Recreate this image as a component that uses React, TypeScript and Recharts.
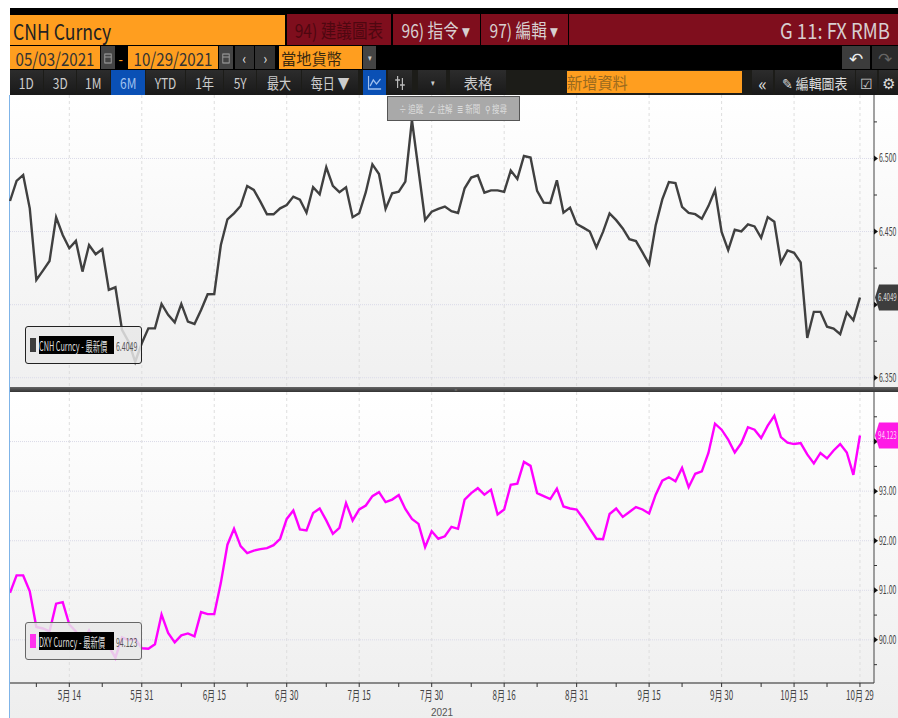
import React from 'react'
import { LineChart, Line, XAxis, YAxis, CartesianGrid } from 'recharts'

const cnhValues = [
  6.4709, 6.4846, 6.4887, 6.4659, 6.4169, 6.4233, 6.4299, 6.4598, 6.4477, 6.4386,
  6.4436, 6.4226, 6.4408, 6.4345, 6.4379, 6.4101, 6.4119, 6.3827, 6.3747, 6.361,
  6.3736, 6.3838, 6.3838, 6.4005, 6.393, 6.3879, 6.4005, 6.3884, 6.3868, 6.3964,
  6.4071, 6.4073, 6.4408, 6.4584, 6.4625, 6.4675, 6.4812, 6.4785, 6.4705, 6.4618,
  6.4618, 6.4659, 6.4682, 6.4739, 6.4718, 6.4629, 6.4803, 6.4755, 6.494, 6.4812,
  6.4769, 6.4803, 6.4598, 6.4625, 6.4769, 6.496, 6.4894, 6.4655, 6.4762, 6.4773,
  6.4842, 6.5263, 6.4921, 6.4579, 6.4636, 6.4655, 6.4671, 6.4639, 6.4627, 6.4796,
  6.4869, 6.4885, 6.4766, 6.4782, 6.4782, 6.4771, 6.4917, 6.486, 6.5017, 6.5006,
  6.4778, 6.4698, 6.4696, 6.4851, 6.4629, 6.4664, 6.4552, 6.4527, 6.45, 6.4392,
  6.4498, 6.4624, 6.4578, 6.4521, 6.4448, 6.4435, 6.4357, 6.4277, 6.4544, 6.472,
  6.4838, 6.4831, 6.4669, 6.4628, 6.4619, 6.4587, 6.4674, 6.4783, 6.4498, 6.4373,
  6.4512, 6.4501, 6.4549, 6.4535, 6.4457, 6.4599, 6.4567, 6.4286, 6.4371, 6.4355,
  6.4289, 6.3773, 6.3951, 6.3951, 6.3849, 6.3837, 6.3798, 6.3947, 6.3894, 6.4049,
]

const dxyValues = [
  90.95, 91.3, 91.3, 90.98, 90.26, 90.23, 90.17, 90.73, 90.76, 90.31,
  90.17, 89.94, 90.19, 89.97, 89.97, 89.87, 89.64, 90.05, 89.99, 90.02,
  89.83, 89.82, 89.91, 90.51, 90.14, 89.95, 90.09, 90.13, 90.07, 90.56,
  90.52, 90.52, 91.15, 91.92, 92.24, 91.89, 91.75, 91.8, 91.83, 91.85,
  91.91, 92.04, 92.44, 92.61, 92.23, 92.21, 92.56, 92.65, 92.41, 92.14,
  92.26, 92.76, 92.41, 92.63, 92.71, 92.9, 92.98, 92.78, 92.83, 92.92,
  92.64, 92.44, 92.34, 91.87, 92.19, 92.04, 92.09, 92.28, 92.24, 92.83,
  92.96, 93.06, 92.93, 93.03, 92.53, 92.63, 93.13, 93.15, 93.59, 93.51,
  92.96, 92.9, 92.84, 93.05, 92.69, 92.65, 92.63, 92.45, 92.24, 92.04,
  92.03, 92.54, 92.65, 92.48, 92.58, 92.68, 92.63, 92.55, 92.93, 93.21,
  93.28, 93.2, 93.47, 93.08, 93.35, 93.4, 93.77, 94.36, 94.24, 94.04,
  93.78, 93.97, 94.29, 94.24, 94.07, 94.32, 94.52, 94.09, 93.98, 93.95,
  93.97, 93.74, 93.56, 93.77, 93.66, 93.82, 93.95, 93.78, 93.33, 94.123,
]

// x is the trading day number, 0 = 05/03/2021
const majorDays = [9, 20, 31, 42, 53, 64, 75, 86, 97, 108, 119, 129]
const majorDayLabels = ['5月 14', '5月 31', '6月 15', '6月 30', '7月 15', '7月 30', '8月 16', '8月 31', '9月 15', '9月 30', '10月 15', '10月 29']
const minorDays = [4, 14, 26, 36, 48, 59, 70, 80, 92, 102, 114, 124]

const cnhMajorTicks = [6.35, 6.4, 6.45, 6.5]
const cnhMinorTicks = [6.375, 6.425, 6.475, 6.525]
const dxyMajorTicks = [90, 91, 92, 93, 94]
const dxyMinorTicks = [89.5, 90.5, 91.5, 92.5, 93.5, 94.5]

const cnhLast = '6.4049'
const dxyLast = '94.123'

const chartData = cnhValues.map((cnh, i) => ({ day: i, cnh, dxy: dxyValues[i] }))

const FONT = '"Noto Sans CJK TC", "Liberation Sans", sans-serif'
const ORANGE = '#ff9e1f'
const MAROON = '#7f0e1d'
const BLUE = '#0a50b5'

const xDomain = [0, 131.13]

function Squeezed({ x, y, size, fill, sx = 0.72, anchor = 'start', children }: any) {
  return (
    <text
      transform={`translate(${x},${y}) scale(${sx},1)`}
      fontFamily={FONT}
      fontSize={size}
      fill={fill}
      textAnchor={anchor}
    >
      {children}
    </text>
  )
}

function PriceTick({ x, y, payload, majors, hidden, last, color, labelColor }: any) {
  const v = payload.value
  if (v === last) {
    const d = `M${x + 1} ${y} L${x + 5} ${y - 13} L${x + 24} ${y - 13} L${x + 24} ${y + 13} L${x + 5} ${y + 13} Z`
    const text = last < 10 ? cnhLast : dxyLast
    return (
      <g>
        <path d={d} fill={color} />
        <Squeezed x={x + 4} y={y + 4} size={11} fill={labelColor} sx={0.56}>{text}</Squeezed>
      </g>
    )
  }
  if (majors.includes(v)) {
    const label = v < 10 ? v.toFixed(3) : v.toFixed(2)
    return (
      <g>
        <path d={`M${x} ${y - 3} L${x + 4} ${y} L${x} ${y + 3} Z`} fill="#111" />
        {/* this label sits under the last-price badge */}
        {v !== hidden && <Squeezed x={x + 5} y={y + 4} size={12} fill="#444" sx={0.58}>{label}</Squeezed>}
      </g>
    )
  }
  return <line x1={x} x2={x + 3} y1={y} y2={y} stroke="#333" />
}

function DayTick({ x, y, payload }: any) {
  const i = majorDays.indexOf(payload.value)
  if (i < 0) return <line x1={x} x2={x} y1={y} y2={y + 4} stroke="#333" />
  return (
    <g>
      <line x1={x} x2={x} y1={y} y2={y + 4} stroke="#333" />
      <Squeezed x={x} y={y + 17} size={13} fill="#444" anchor="middle" sx={0.62}>{majorDayLabels[i]}</Squeezed>
    </g>
  )
}

function Box({ x, y, w, h, bg, color = '#ccc', size = 14, sx = 0.8, align = 'center', pad = 0, border, children }: any) {
  return (
    <div
      style={{
        position: 'absolute', left: x, top: y, width: w, height: h, background: bg,
        color, fontSize: size, fontFamily: FONT, display: 'flex', alignItems: 'center',
        justifyContent: align === 'center' ? 'center' : align === 'right' ? 'flex-end' : 'flex-start',
        paddingLeft: pad, paddingRight: align === 'right' ? pad : 0, boxSizing: 'border-box',
        border, overflow: 'hidden', whiteSpace: 'nowrap',
      }}
    >
      <span
        style={{
          display: 'inline-block', flex: 'none', transform: `scaleX(${sx})`,
          transformOrigin: align === 'center' ? 'center' : align === 'right' ? 'right center' : 'left center',
        }}
      >
        {children}
      </span>
    </div>
  )
}

const Calendar = () => (
  <svg width="10" height="12" style={{ display: 'block' }}>
    <rect x="1" y="2" width="8" height="9" fill="none" stroke="#aaa" />
    <line x1="1" x2="9" y1="5" y2="5" stroke="#aaa" />
  </svg>
)

function Toolbar() {
  const dark = 'linear-gradient(#2c2c2c, #191919)'
  const row3 = [
    ['1D', 10, 33], ['3D', 44, 32], ['1M', 77, 33], ['6M', 111, 34], ['YTD', 146, 39],
    ['1年', 186, 37], ['5Y', 224, 32], ['最大', 257, 44], ['每日 ▼', 302, 56],
  ] as const
  return (
    <>
      <Box x={10} y={8} w={888} h={87} bg="#000" />
      <Box x={10} y={15} w={275} h={30} bg={ORANGE} color="#222" size={22} align="left" pad={3} sx={0.8}>CNH Curncy</Box>
      <Box x={287} y={14} w={104} h={31} bg={MAROON} color="#4e0710" size={19} sx={0.82}>94) 建議圖表</Box>
      <Box x={393} y={14} w={87} h={31} bg={MAROON} color="#d8cfd0" size={19} sx={0.82}>96) 指令 ▾</Box>
      <Box x={481} y={14} w={87} h={31} bg={MAROON} color="#d8cfd0" size={19} sx={0.82}>97) 編輯 ▾</Box>
      <Box x={569} y={14} w={329} h={31} bg={MAROON} color="#d8cfd0" size={21} sx={0.88} align="right" pad={8}>G 11: FX RMB</Box>

      <Box x={10} y={46} w={90} h={23} bg={ORANGE} color="#333" size={18} sx={0.84}>05/03/2021</Box>
      <Box x={101} y={46} w={14} h={23} bg="#444"><Calendar /></Box>
      <Box x={116} y={46} w={10} h={23} color={ORANGE} size={16}>-</Box>
      <Box x={128} y={46} w={90} h={23} bg={ORANGE} color="#333" size={18} sx={0.84}>10/29/2021</Box>
      <Box x={219} y={46} w={14} h={23} bg="#444"><Calendar /></Box>
      <Box x={235} y={46} w={19} h={23} bg="#333" color="#eee" size={15}>‹</Box>
      <Box x={255} y={46} w={20} h={23} bg="#333" color="#eee" size={15}>›</Box>
      <Box x={279} y={46} w={83} h={23} bg={ORANGE} color="#3a2a10" size={16} align="left" pad={2} sx={0.95}>當地貨幣</Box>
      <Box x={363} y={46} w={13} h={23} bg="#444" size={9}>▾</Box>
      <Box x={842} y={46} w={28} h={23} bg="#3c3c3c" color="#eee" size={17} sx={1}>↶</Box>
      <Box x={872} y={46} w={26} h={23} bg="#2a2a2a" color="#666" size={17} sx={1}>↷</Box>

      <Box x={10} y={70} w={888} h={25} bg="#1c1c18" />
      {row3.map(([t, x, w]) => (
        <Box key={t} x={x} y={70} w={w} h={25} bg={t === '6M' ? BLUE : dark} color={t === '6M' ? '#9fc0ee' : '#ccc'} size={15}>{t}</Box>
      ))}
      <Box x={363} y={70} w={23} h={25} bg={BLUE}>
        <svg width="17" height="14" style={{ display: 'block' }}>
          <path d="M1 0 V13 H17 M3 10 L7 4 L11 8 L16 3" fill="none" stroke="#9fc0ee" strokeWidth="1.5" />
        </svg>
      </Box>
      <Box x={388} y={70} w={24} h={25} bg={dark}>
        <svg width="14" height="16" style={{ display: 'block' }}>
          <path d="M4 1 V13 M1 5 H7 M10 3 V15 M7 10 H13" fill="none" stroke="#bbb" strokeWidth="1.5" />
        </svg>
      </Box>
      <Box x={418} y={70} w={28} h={25} bg={dark} size={9}>▾</Box>
      <Box x={450} y={70} w={56} h={25} bg={dark} color="#ccc" size={15} sx={0.95}>表格</Box>
      <Box x={567} y={71} w={175} h={22} bg={ORANGE} color="#9a6a1e" size={16} align="left" sx={0.95} pad={0}>新增資料</Box>
      <Box x={752} y={70} w={21} h={25} bg={dark} color="#ddd" size={18} sx={1}>«</Box>
      <Box x={775} y={70} w={80} h={25} bg={dark} color="#ddd" size={14} sx={0.92}>✎ 編輯圖表</Box>
      <Box x={856} y={70} w={21} h={25} bg={dark} color="#ccc" size={14} sx={1}>☑</Box>
      <Box x={879} y={70} w={19} h={25} bg={dark} color="#ddd" size={15} sx={1}>⚙</Box>
    </>
  )
}

function ChartLegend({ y, border, swatch, name, value }: any) {
  return (
    <>
      <div
        style={{
          position: 'absolute', left: 25, top: y, width: 117, height: 38, boxSizing: 'border-box',
          background: 'rgba(232,232,232,0.85)', border: `1.5px solid ${border}`, borderRadius: 3,
        }}
      />
      <div style={{ position: 'absolute', left: 30, top: y + 12, width: 6, height: 14, background: swatch }} />
      <Box x={39} y={y + 10} w={75} h={18} bg="#000" color="#ddd" size={13} sx={0.56} align="left">{name}</Box>
      <Box x={116} y={y + 10} w={24} h={18} color="#555" size={12} sx={0.58} align="left">{value}</Box>
    </>
  )
}

export default function App() {
  return (
    <div style={{ position: 'absolute', left: 0, top: 0, width: 898, height: 718, overflow: 'hidden', background: '#fff' }}>
      <Toolbar />

      <div style={{ position: 'absolute', left: 10, top: 95, width: 888, height: 292, background: 'linear-gradient(#fff, #f0f0f0)' }} />
      <div style={{ position: 'absolute', left: 10, top: 392, width: 888, height: 326, background: 'linear-gradient(#fff, #eee)' }} />
      <div style={{ position: 'absolute', left: 9, top: 95, width: 1, height: 623, background: '#7fb4e8' }} />

      <div style={{ position: 'absolute', left: 0, top: 95 }}>
        <LineChart width={898} height={293} data={chartData} margin={{ top: 0, right: 0, bottom: 0, left: 10 }}>
          <CartesianGrid horizontal={false} verticalValues={majorDays} stroke="#dedede" strokeDasharray="3 3" />
          <CartesianGrid vertical={false} horizontalValues={cnhMajorTicks} stroke="#dadae8" strokeDasharray="1 1" />
          <XAxis dataKey="day" type="number" domain={xDomain} hide />
          <YAxis
            orientation="right"
            width={24}
            domain={[6.343, 6.5434]}
            ticks={[...cnhMajorTicks, ...cnhMinorTicks, 6.4049]}
            interval={0}
            allowDataOverflow
            axisLine={{ stroke: '#444' }}
            tickLine={false}
            tickSize={0}
            tickMargin={0}
            tick={<PriceTick majors={cnhMajorTicks} hidden={6.4} last={6.4049} color="#3d3d3d" labelColor="#ddd" />}
          />
          <Line dataKey="cnh" stroke="#404040" strokeWidth={2.4} dot={false} isAnimationActive={false} />
        </LineChart>
      </div>

      <div style={{ position: 'absolute', left: 0, top: 392 }}>
        <LineChart width={898} height={326} data={chartData} margin={{ top: 0, right: 0, bottom: 0, left: 10 }}>
          <CartesianGrid horizontal={false} verticalValues={majorDays} stroke="#dedede" strokeDasharray="3 3" />
          <CartesianGrid vertical={false} horizontalValues={dxyMajorTicks} stroke="#dadae8" strokeDasharray="1 1" />
          <XAxis
            dataKey="day"
            type="number"
            domain={xDomain}
            height={35}
            ticks={[...minorDays, ...majorDays]}
            interval={0}
            allowDataOverflow
            axisLine={{ stroke: '#222' }}
            tickLine={false}
            tickSize={0}
            tickMargin={0}
            tick={<DayTick />}
            label={{ value: '2021', position: 'insideBottom', offset: 2, fontSize: 10, fill: '#555', fontFamily: '"Liberation Sans Narrow", sans-serif' }}
          />
          <YAxis
            orientation="right"
            width={24}
            domain={[89.13, 95]}
            ticks={[...dxyMajorTicks, ...dxyMinorTicks, 94.123]}
            interval={0}
            allowDataOverflow
            axisLine={{ stroke: '#444' }}
            tickLine={false}
            tickSize={0}
            tickMargin={0}
            tick={<PriceTick majors={dxyMajorTicks} hidden={94} last={94.123} color="#ff19e6" labelColor="#ffd6f8" />}
          />
          <Line dataKey="dxy" stroke="#ff00ff" strokeWidth={2.4} dot={false} isAnimationActive={false} />
        </LineChart>
      </div>

      <div style={{ position: 'absolute', left: 10, top: 387, width: 888, height: 5, background: 'linear-gradient(#666, #333)' }} />
      <Box x={451} y={387} w={10} h={5} color="#aaa" size={5} sx={1}>=</Box>

      <Box x={387} y={96} w={133} h={25} bg="#a9a9a9" color="#dcdcdc" size={10} sx={0.75} border="1px solid #555">
        ÷ 追蹤 &nbsp; ∠ 註解 &nbsp; ≣ 新聞 &nbsp; ⚲ 搜尋
      </Box>

      <ChartLegend y={326} border="#222" swatch="#3d3d3d" name="CNH Curncy - 最新價" value={cnhLast} />
      <ChartLegend y={622} border="#666" swatch="#ff33ee" name="DXY Curncy - 最新價" value={dxyLast} />
    </div>
  )
}
